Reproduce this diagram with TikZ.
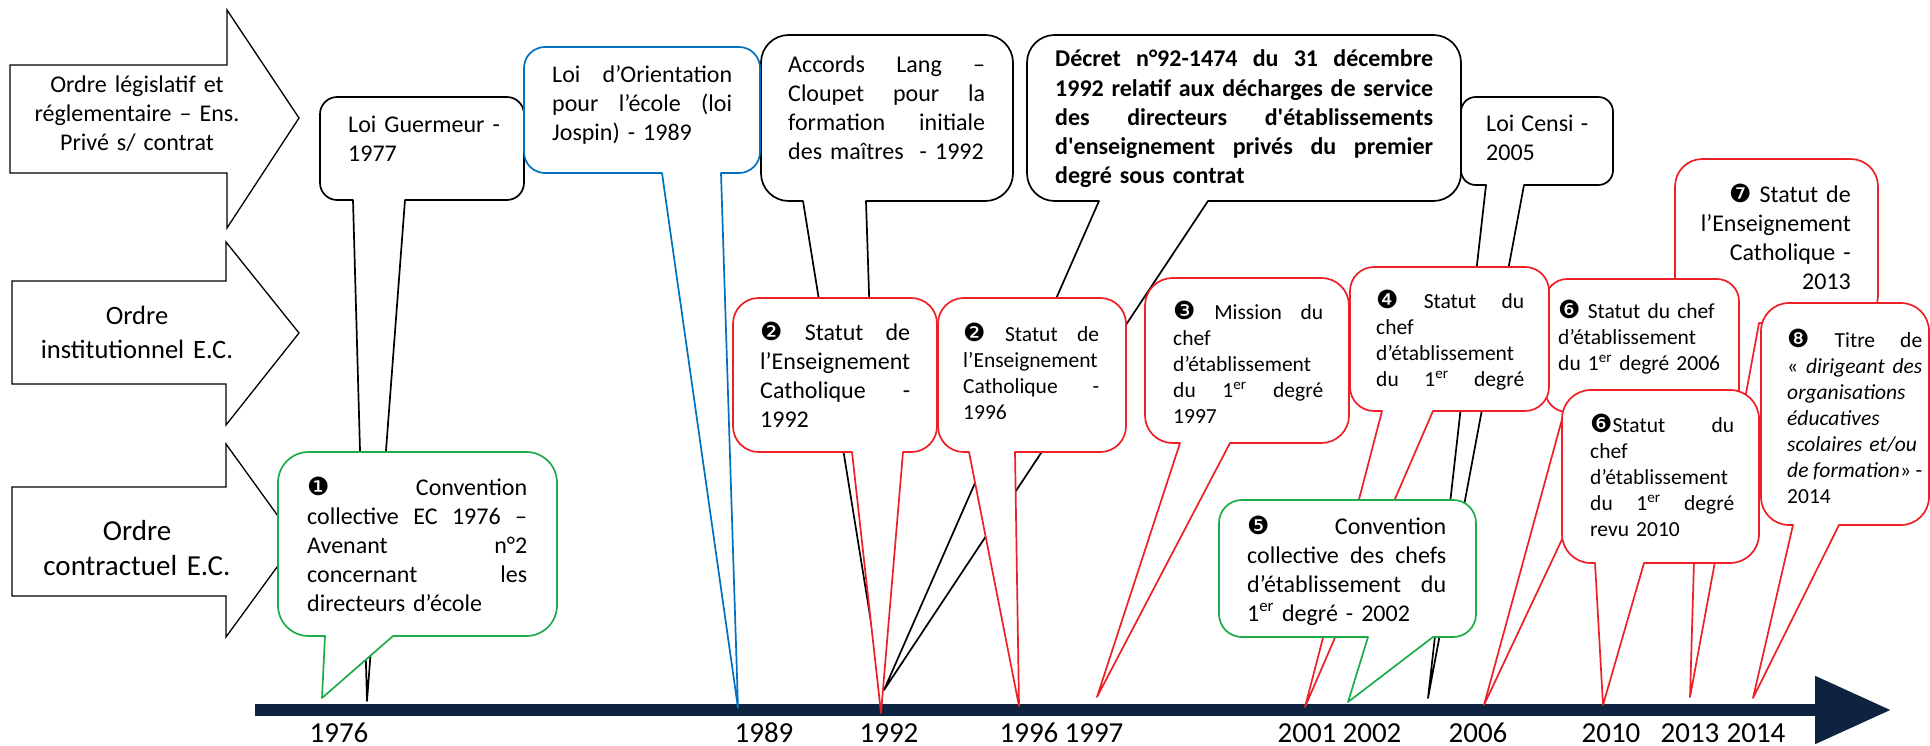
\documentclass[tikz,border=0pt]{standalone}
\usepackage{fontspec}
\setmainfont{Carlito}
\newfontfamily\dingfont{DejaVu Sans}
\newfontfamily\straightfont{Carlito}[Ligatures=TeXOff]
\usetikzlibrary{arrows.meta}

\definecolor{navy}{RGB}{14,35,64}
\definecolor{ecred}{RGB}{236,32,38}
\definecolor{ecgreen}{RGB}{30,172,72}
\definecolor{lawblue}{RGB}{0,112,192}

\newcommand{\linelen}{0pt}
\newcommand{\jl}[1]{{\spaceskip=0pt\xspaceskip=0pt\makebox[\linelen][s]{#1}}}
\newcommand{\dnum}[1]{{\dingfont\fontsize{25}{25}\selectfont #1}}
\newcommand{\sq}{{\straightfont\bfseries '}}
\newcommand{\ersup}{\textsuperscript{er}}

% callout: style, left, top, right, bottom, wedge from, wedge to, tip
\newcommand{\bubble}[8]{%
  \pgfmathsetmacro{\bubr}{0.1667*min(#4-#2,#5-#3)}%
  \draw[#1] (#7,#5) [rounded corners=\bubr pt] -- (#4,#5) -- (#4,#3) -- (#2,#3)
    -- (#2,#5) [sharp corners] -- (#6,#5) -- (#8) -- cycle;}

\begin{document}
\begin{tikzpicture}[
    x=1pt, y=-1pt,
    orderarrow/.style={draw, line width=1.3pt, fill=white, line join=miter},
    bubble/.style={line width=1.7pt, fill=white, line join=round},
    blackbub/.style={bubble, draw=black},
    bluebub/.style={bubble, draw=lawblue},
    redbub/.style={bubble, draw=ecred},
    greenbub/.style={bubble, draw=ecgreen},
    txt/.style={inner sep=0pt, anchor=base west, align=left, font=\fontsize{24}{29}\selectfont},
    smalltxt/.style={txt, font=\fontsize{21.5}{26}\selectfont},
    jw/.style={text width=#1, execute at begin node={\def\linelen{#1}}},
    ordertxt/.style={inner sep=0pt, anchor=base, align=center, text width=215pt},
    year/.style={inner sep=0pt, anchor=base, font=\fontsize{29}{34}\selectfont}
]
\useasboundingbox (0,0) rectangle (1930,746);

% the three orders
\draw[orderarrow] (10,65) -- (227,65) -- (227,10) -- (299,118) -- (227,228) -- (227,173) -- (10,173) -- cycle;
\draw[orderarrow] (12,281) -- (226,281) -- (226,242) -- (299,333) -- (226,425) -- (226,384) -- (12,384) -- cycle;
\draw[orderarrow] (12,487) -- (226,487) -- (226,444) -- (296,541) -- (226,637) -- (226,596) -- (12,596) -- cycle;
\node[ordertxt, font=\fontsize{24}{29}\selectfont] (legis) at (137,93) {Ordre législatif et\\ réglementaire – Ens.\\ Privé s/ contrat};
\node[ordertxt, font=\fontsize{26.5}{34}\selectfont] (instit) at (137,324) {Ordre\\ institutionnel E.C.};
\node[ordertxt, font=\fontsize{29}{35}\selectfont] (contract) at (137,540) {Ordre\\ contractuel E.C.};

% timeline
\coordinate (tlstart) at (255,710);
\coordinate (tlend) at (1891,710);
\draw[navy, line width=12pt, -{Triangle[length=76pt,width=65pt]}] (tlstart) -- (tlend);

\node[year] (y1976) at (339,742) {1976};
\node[year] (y1989) at (764,742) {1989};
\node[year] (y1992) at (889,742) {1992};
\node[year] (y1996) at (1029,742) {1996};
\node[year] (y1997) at (1094,742) {1997};
\node[year] (y2001) at (1307,742) {2001};
\node[year] (y2002) at (1372,742) {2002};
\node[year] (y2006) at (1478,742) {2006};
\node[year] (y2010) at (1611,742) {2010};
\node[year] (y2013) at (1690,742) {2013};
\node[year] (y2014) at (1756,742) {2014};

% tips of the callouts
\coordinate (tguer) at (367,701);
\coordinate (tconv76) at (322,698);
\coordinate (tjospin) at (738,708);
\coordinate (tlang) at (882,690);
\coordinate (tdecret) at (884,690);
\coordinate (tstat92) at (881,713);
\coordinate (tstat96) at (1019,706);
\coordinate (tmiss97) at (1097,697);
\coordinate (tstat01) at (1305,707);
\coordinate (tconv02) at (1348,702);
\coordinate (tcensi) at (1428,698);
\coordinate (tstat06) at (1484,705);
\coordinate (tstat10) at (1603,705);
\coordinate (tstat13) at (1690,697);
\coordinate (ttitre14) at (1753,698);

% legislative order
\bubble{blackbub}{320}{97}{524}{200}{353}{405}{tguer}
\node[txt, jw=170pt] (guer) at (348,133) {Loi Guermeur -\\ 1977};
\bubble{blackbub}{761}{35}{1013}{201}{803}{866}{tlang}
\node[txt, jw=197pt] (lang) at (788,73) {\jl{Accords Lang –}\\ \jl{Cloupet pour la}\\ \jl{formation initiale}\\ des maîtres ~- 1992};
\bubble{blackbub}{1027}{35}{1461}{201}{1099}{1208}{tdecret}
\node[txt, jw=378pt, font=\fontsize{24}{29.2}\selectfont\bfseries] (decret) at (1055,67)
  {\jl{Décret n°92-1474 du 31 décembre}\\ \jl{1992 relatif aux décharges de service}\\
   \jl{des directeurs d\sq établissements}\\ \jl{d\sq enseignement privés du premier}\\ degré sous contrat};
\bubble{blackbub}{1461}{97}{1613}{185}{1486}{1524}{tcensi}
\node[txt, jw=102pt] (censi) at (1486,132) {\jl{Loi Censi -}\\ 2005};
\bubble{bluebub}{524}{47}{760}{173}{662}{721}{tjospin}
\node[txt, jw=180pt] (jospin) at (552,83) {\jl{Loi d’Orientation}\\ \jl{pour l’école (loi}\\ Jospin) - 1989};

% institutional order
\bubble{redbub}{1675}{159}{1878}{323}{1701}{1759}{tstat13}
\node[txt, anchor=base east, align=right, text width=175pt] (stat13) at (1851,203)
  {\dnum{❼} Statut de\\ l’Enseignement\\ Catholique -\\ 2013};
\bubble{redbub}{1545}{279}{1739}{412}{1564}{1622}{tstat06}
\node[smalltxt, jw=165pt] (stat06) at (1558,318) {\dnum{❻} Statut du chef\\ d’établissement\\ du 1\ersup{} degré 2006};
\bubble{redbub}{1350}{267}{1549}{411}{1382}{1433}{tstat01}
\node[smalltxt, jw=148pt] (stat01) at (1376,308) {\jl{\dnum{❹} Statut du}\\ chef\\ d’établissement\\ \jl{du 1\ersup{} degré}};
\bubble{redbub}{733}{298}{937}{452}{852}{903}{tstat92}
\node[txt, jw=150pt] (stat92) at (760,340) {\jl{\dnum{❷} Statut de}\\ \jl{l’Enseignement}\\ \jl{Catholique -}\\ 1992};
\bubble{redbub}{938}{298}{1126}{452}{969}{1015}{tstat96}
\node[smalltxt, jw=136pt] (stat96) at (963,341) {\jl{\dnum{❷} Statut de}\\ \jl{l’Enseignement}\\ \jl{Catholique -}\\ 1996};
\bubble{redbub}{1145}{278}{1349}{443}{1180}{1230}{tmiss97}
\node[smalltxt, jw=150pt] (miss97) at (1173,319) {\jl{\dnum{❸} Mission du}\\ chef\\ d’établissement\\ \jl{du 1\ersup{} degré}\\ 1997};
\bubble{redbub}{1562}{390}{1759}{563}{1595}{1644}{tstat10}
\node[smalltxt, jw=144pt] (stat10) at (1590,432) {\jl{\dnum{❻}Statut du}\\ chef\\ d’établissement\\ \jl{du 1\ersup{} degré}\\ revu 2010};
\bubble{redbub}{1761}{303}{1929}{525}{1793}{1839}{ttitre14}
\node[smalltxt, jw=135pt] (titre14) at (1787,347)
  {\jl{\dnum{❽} Titre de}\\ \jl{« \textit{dirigeant des}}\\ \textit{organisations}\\ \textit{éducatives}\\ \textit{scolaires et/ou}\\ \jl{\textit{de formation}» -}\\ 2014};

% contractual order
\bubble{greenbub}{278}{452}{557}{636}{325}{393}{tconv76}
\node[txt, jw=220pt] (conv76) at (307,495) {\jl{\dnum{❶} Convention}\\ \jl{collective EC 1976 –}\\ \jl{Avenant n°2}\\ \jl{concernant les}\\ directeurs d’école};
\bubble{greenbub}{1219}{500}{1476}{637}{1368}{1433}{tconv02}
\node[txt, jw=199pt] (conv02) at (1247,534) {\jl{\dnum{❺} Convention}\\ \jl{collective des chefs}\\ \jl{d’établissement du}\\ 1\ersup{} degré - 2002};
\end{tikzpicture}
\end{document}
